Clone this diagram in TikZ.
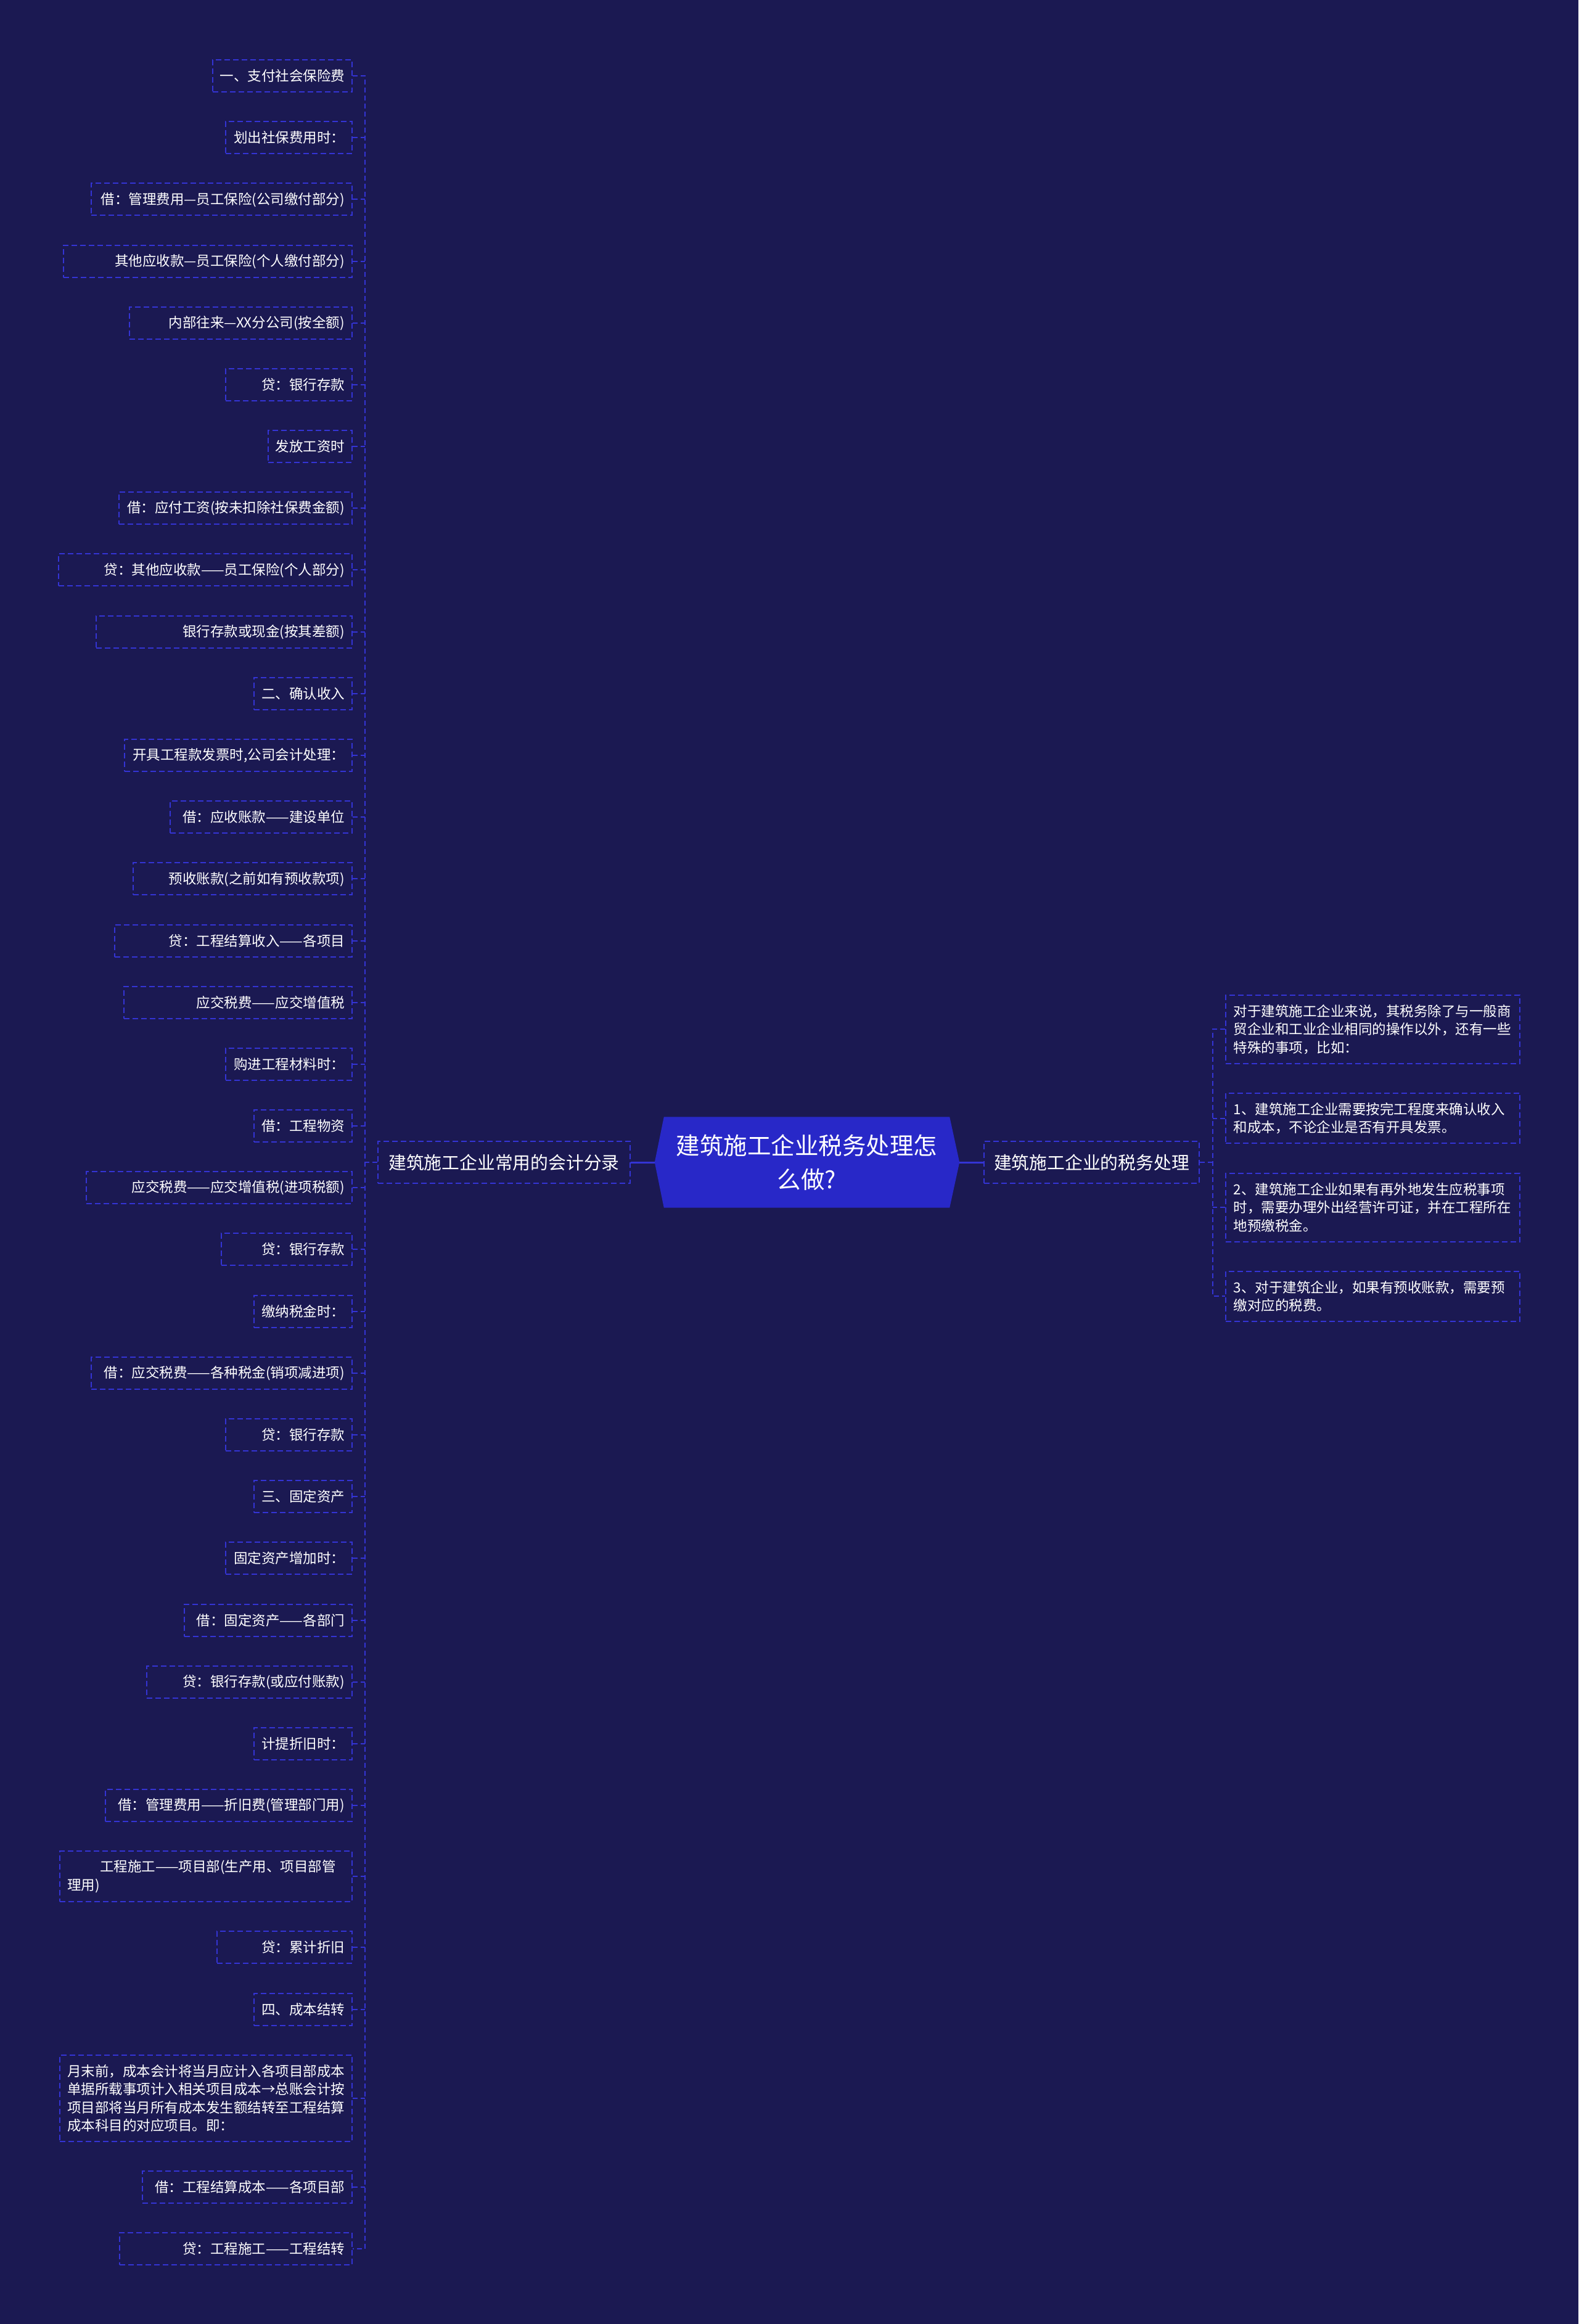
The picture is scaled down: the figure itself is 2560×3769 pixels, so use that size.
\documentclass[tikz,border=0pt]{standalone}
\usepackage{fontspec}
\setmainfont{Noto Sans CJK SC}
\definecolor{bgc}{RGB}{27,25,82}
\definecolor{lnc}{RGB}{52,52,212}
\definecolor{ctr}{RGB}{40,40,200}
\pgfdeclarelayer{bg}\pgfsetlayers{bg,main}
\newcommand\mystrut{\rule[-2.7pt]{0pt}{22.5pt}}
\newcommand\bigstrut{\rule[-4.6pt]{0pt}{38.5pt}}
\tikzset{
 conn/.style={draw=lnc, line width=2pt, dash pattern=on 8pt off 5pt},
 mainconn/.style={draw=lnc, line width=3pt},
 leafbox/.style={draw=lnc, line width=2pt, dash pattern=on 9pt off 5pt, text=white, font=\fontsize{22.5pt}{29.5pt}\selectfont, inner xsep=12pt, inner ysep=0pt},
 lleaf/.style={leafbox, anchor=east, minimum height=52pt},
 lmulti/.style={leafbox, anchor=east, text width=450pt, align=left},
 rleaf/.style={leafbox, anchor=west, text width=452pt, align=left, inner xsep=12.5pt},
 branchbox/.style={draw=lnc, line width=2pt, dash pattern=on 9pt off 5pt, text=white, font=\fontsize{28.8pt}{36pt}\selectfont, inner sep=0pt, minimum height=68pt},
}
% left leaf: name, y, left edge, text
\newcommand\lf[4]{\node[lleaf] (#1) at (572,#2) {\makebox[\dimexpr 548pt-#3pt\relax][r]{\mystrut #4}};}
\begin{document}
\begin{tikzpicture}[x=1pt,y=-1pt]
\begin{pgfonlayer}{bg}
\fill[bgc] (0,0) rectangle (2560,3769);
\end{pgfonlayer}
\useasboundingbox (0,0) rectangle (2560,3769);

% center
\node[font=\fontsize{38.5pt}{55pt}\selectfont, text=white, align=center, minimum width=463pt, minimum height=147pt, inner sep=0pt] (c) at (1308.5,1885) {\bigstrut 建筑施工企业税务处理怎\\\bigstrut 么做?};
\begin{pgfonlayer}{bg}
\fill[ctr] (c.north west) -- (c.north east) -- ([xshift=16pt]c.east) -- (c.south east) -- (c.south west) -- ([xshift=-15pt]c.west) -- cycle;
\end{pgfonlayer}
\coordinate (cl) at ([xshift=-15pt]c.west);
\coordinate (cr) at ([xshift=16pt]c.east);

% branches
\node[branchbox, minimum width=409pt] (lb) at (817.5,1885) {建筑施工企业常用的会计分录};
\node[branchbox, minimum width=349pt] (rb) at (1770.5,1885) {建筑施工企业的税务处理};
\draw[mainconn] (cl) -- (lb.east);
\draw[mainconn] (cr) -- (rb.west);

% left leaves
\lf{L1}{123}{346}{一、支付社会保险费}
\lf{L2}{223.18}{367}{划出社保费用时：}
\lf{L3}{323.36}{149}{借：管理费用—员工保险(公司缴付部分)}
\lf{L4}{423.54}{104}{其他应收款—员工保险(个人缴付部分)}
\lf{L5}{523.72}{211}{内部往来—XX分公司(按全额)}
\lf{L6}{623.9}{367}{贷：银行存款}
\lf{L7}{724.08}{436}{发放工资时}
\lf{L8}{824.26}{194}{借：应付工资(按未扣除社保费金额)}
\lf{L9}{924.44}{96}{贷：其他应收款——员工保险(个人部分)}
\lf{L10}{1024.62}{157}{银行存款或现金(按其差额)}
\lf{L11}{1124.8}{413}{二、确认收入}
\lf{L12}{1224.98}{203}{开具工程款发票时,公司会计处理：}
\lf{L13}{1325.16}{277}{借：应收账款——建设单位}
\lf{L14}{1425.34}{217}{预收账款(之前如有预收款项)}
\lf{L15}{1525.52}{187}{贷：工程结算收入——各项目}
\lf{L16}{1625.7}{202}{应交税费——应交增值税}
\lf{L17}{1725.88}{367}{购进工程材料时：}
\lf{L18}{1826.06}{413}{借：工程物资}
\lf{L19}{1926.24}{141}{应交税费——应交增值税(进项税额)}
\lf{L20}{2026.42}{360}{贷：银行存款}
\lf{L21}{2126.6}{413}{缴纳税金时：}
\lf{L22}{2226.78}{149}{借：应交税费——各种税金(销项减进项)}
\lf{L23}{2326.96}{367}{贷：银行存款}
\lf{L24}{2427.14}{413}{三、固定资产}
\lf{L25}{2527.32}{367}{固定资产增加时：}
\lf{L26}{2627.5}{300}{借：固定资产——各部门}
\lf{L27}{2727.68}{239}{贷：银行存款(或应付账款)}
\lf{L28}{2827.86}{413}{计提折旧时：}
\lf{L29}{2928.04}{172}{借：管理费用——折旧费(管理部门用)}
\node[lmulti, minimum height=81.5pt] (L30) at (572,3043) {\noindent\mystrut\hspace*{53pt}工程施工——项目部(生产用、项目部管\\\mystrut 理用)};
\lf{L31}{3158.4}{353}{贷：累计折旧}
\lf{L32}{3258.6}{413}{四、成本结转}
\node[lmulti, minimum height=140.5pt] (L33) at (572,3402.8) {\noindent\mystrut 月末前，成本会计将当月应计入各项目部成本\\\mystrut 单据所载事项计入相关项目成本→总账会计按\\\mystrut 项目部将当月所有成本发生额结转至工程结算\\\mystrut 成本科目的对应项目。即：};
\lf{L34}{3547}{232}{借：工程结算成本——各项目部}
\lf{L35}{3647}{195}{贷：工程施工——工程结转}

\draw[conn] (L1.east) -- ++(20,0) |- (L35.east);
\foreach \i in {2,...,34} \draw[conn] (L\i.east) -- ++(20,0);
\draw[conn] (lb.west) -- ++(-21,0);

% right leaves
\node[rleaf, minimum height=111pt] (R1) at (1987,1669) {\noindent\mystrut 对于建筑施工企业来说，其税务除了与一般商\\\mystrut 贸企业和工业企业相同的操作以外，还有一些\\\mystrut 特殊的事项，比如：};
\node[rleaf, minimum height=81.5pt] (R2) at (1987,1813.5) {\noindent\mystrut 1、建筑施工企业需要按完工程度来确认收入\\\mystrut 和成本，不论企业是否有开具发票。};
\node[rleaf, minimum height=111pt] (R3) at (1987,1958) {\noindent\mystrut 2、建筑施工企业如果有再外地发生应税事项\\\mystrut 时，需要办理外出经营许可证，并在工程所在\\\mystrut 地预缴税金。};
\node[rleaf, minimum height=81.5pt] (R4) at (1987,2102.4) {\noindent\mystrut 3、对于建筑企业，如果有预收账款，需要预\\\mystrut 缴对应的税费。};

\draw[conn] (R1.west) -- ++(-20,0) |- (R4.west);
\draw[conn] (R2.west) -- ++(-20,0);
\draw[conn] (R3.west) -- ++(-20,0);
\draw[conn] (rb.east) -- ++(22,0);
\end{tikzpicture}
\end{document}
